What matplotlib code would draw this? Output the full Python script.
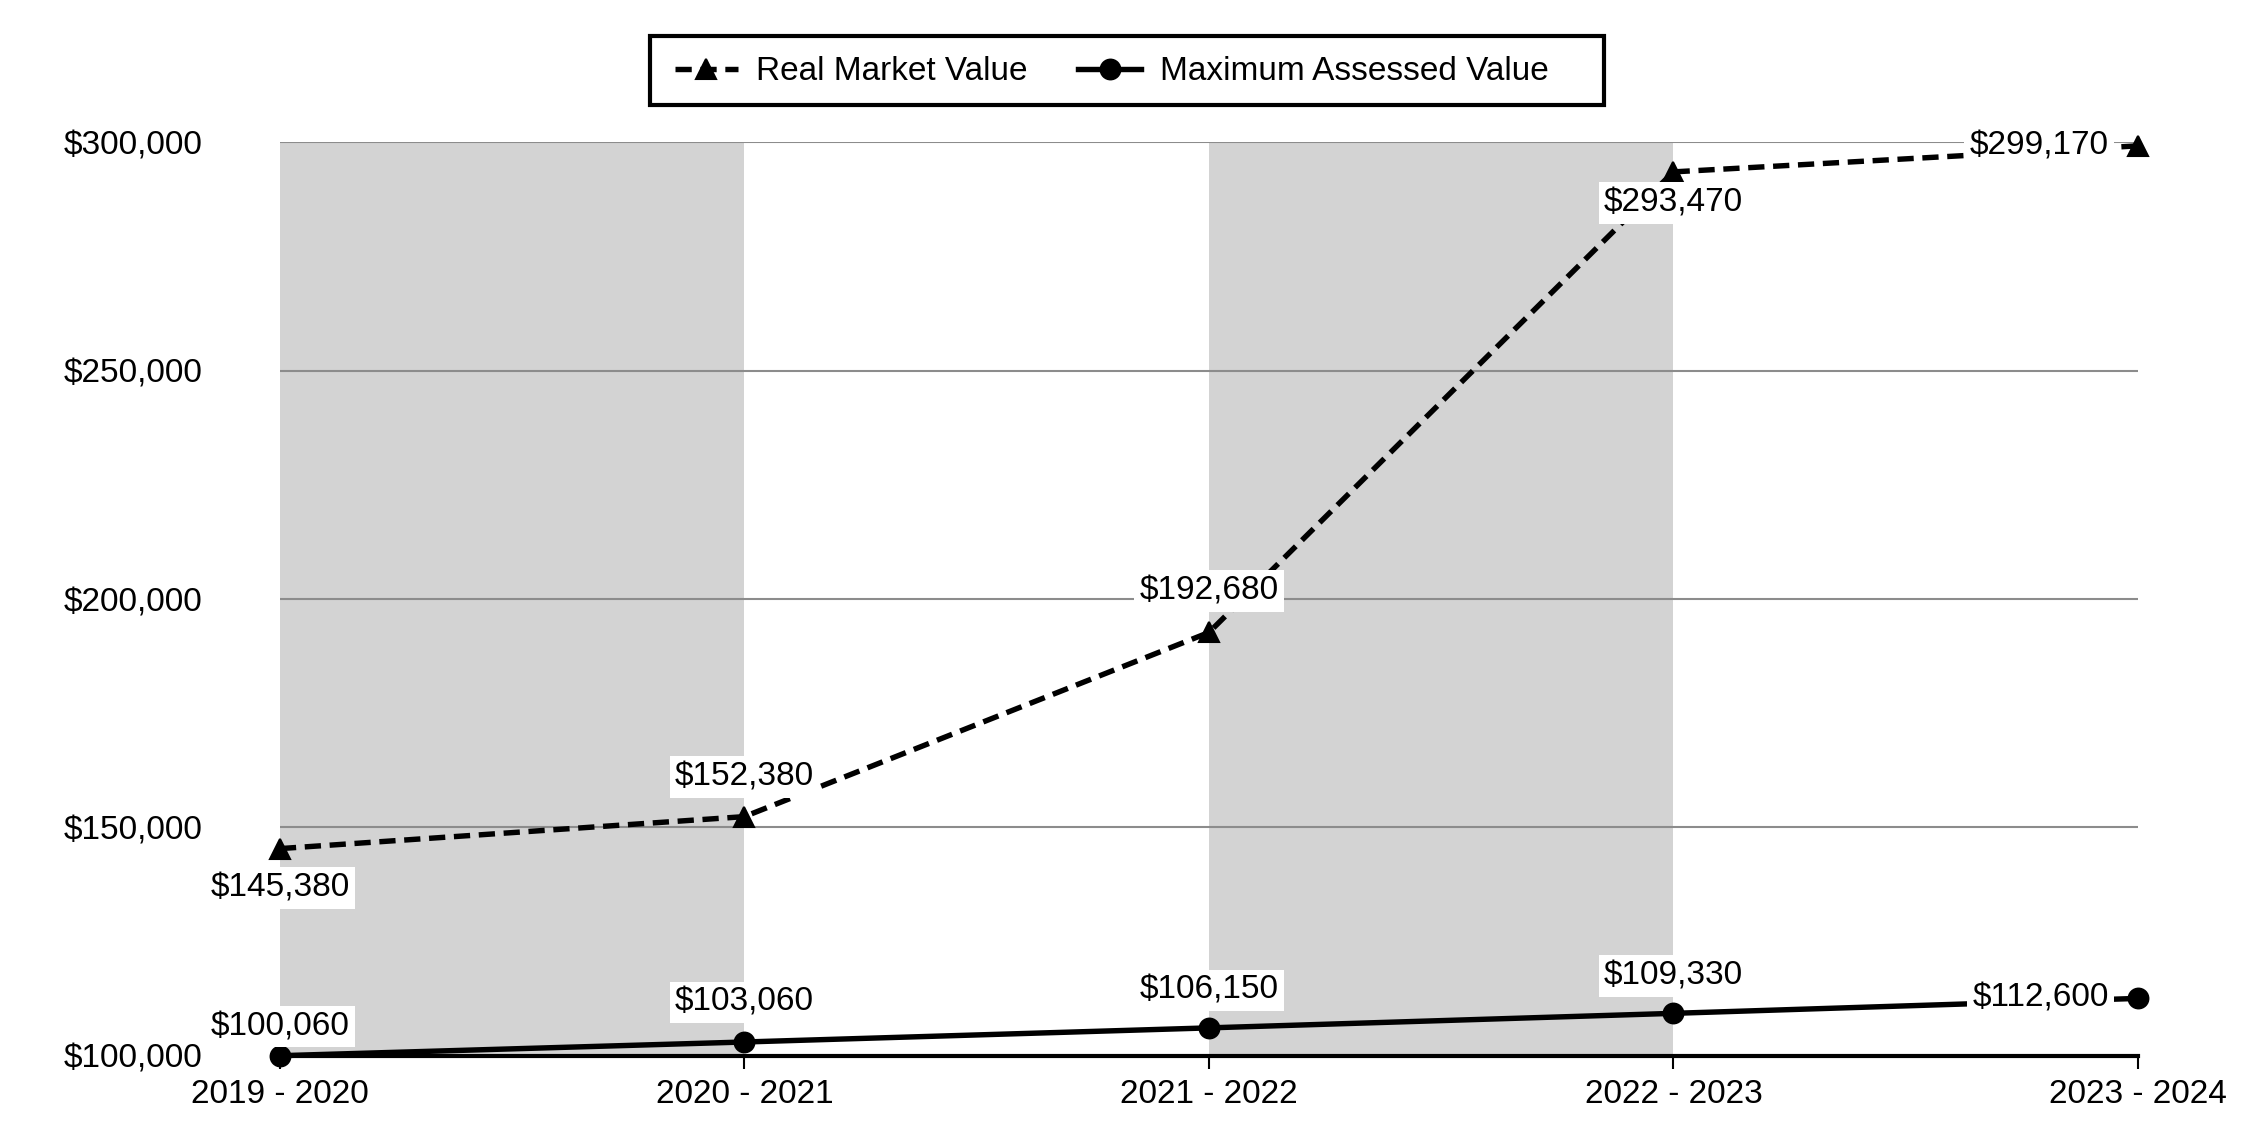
import matplotlib
matplotlib.use("Agg")
import matplotlib.pyplot as plt
from matplotlib.patches import Rectangle
from matplotlib.ticker import FuncFormatter

plt.rcParams['font.family'] = ['Liberation Sans', 'DejaVu Sans']

# data
years = ["2019 - 2020", "2020 - 2021", "2021 - 2022", "2022 - 2023", "2023 - 2024"]
real_market = [145380, 152380, 192680, 293470, 299170]
max_assessed = [100060, 103060, 106150, 109330, 112600]
y_ticks = [100000, 150000, 200000, 250000, 300000]

fig = plt.figure(figsize=(15, 7.6), dpi=150)
ax = fig.add_axes([0.1244, 0.0737, 0.8258, 0.8017])

x = list(range(len(years)))

# alternating grey bands
for i in range(0, len(years) - 1, 2):
    ax.axvspan(i, i + 1, color='#d3d3d3', lw=0, zorder=0)

for yv in y_ticks[1:]:
    ax.axhline(yv, color='#8c8c8c', lw=1.0, zorder=1)

ax.plot(x, real_market, color='black', ls=(0, (3, 1.6)), lw=2.6,
        marker='^', ms=10, label='Real Market Value', zorder=3, clip_on=False)
ax.plot(x, max_assessed, color='black', ls='-', lw=2.6,
        marker='o', ms=9.5, label='Maximum Assessed Value', zorder=3, clip_on=False)

box = dict(facecolor='white', edgecolor='none', pad=2.5)

# label offsets (points) for each series
rm_off = [(0, -19), (0, 19), (0, 20), (0, -15), (-14, 0)]
ma_off = [(0, 14), (0, 19), (0, 18), (0, 18), (-14, 0)]

for xi, v, off in zip(x, real_market, rm_off):
    ha = 'right' if off[0] < 0 else 'center'
    ax.annotate(f"${v:,}", (xi, v), xytext=off, textcoords='offset points',
                ha=ha, va='center', fontsize=16, bbox=box, zorder=5)
for xi, v, off in zip(x, max_assessed, ma_off):
    ha = 'right' if off[0] < 0 else 'center'
    ax.annotate(f"${v:,}", (xi, v), xytext=off, textcoords='offset points',
                ha=ha, va='center', fontsize=16, bbox=box, zorder=5)

ax.set_xlim(0, len(years) - 1)
ax.set_ylim(100000, 300000)
ax.set_xticks(x)
ax.set_xticklabels(years)
ax.set_yticks(y_ticks)
ax.yaxis.set_major_formatter(FuncFormatter(lambda v, p: f"${v:,.0f}"))
ax.tick_params(axis='y', length=0, pad=37, labelsize=16)
ax.tick_params(axis='x', length=6, width=1, pad=5, labelsize=16)

for s in ['top', 'right', 'left']:
    ax.spines[s].set_visible(False)
ax.spines['bottom'].set_linewidth(2)
ax.spines['bottom'].set_zorder(4)

# legend without frame, box drawn separately
leg = fig.legend(loc='center', bbox_to_anchor=(0.494, 0.937), ncol=2,
                 frameon=False, fontsize=16,
                 handlelength=1.9, handletextpad=0.55, columnspacing=1.5)
fig.patches.append(Rectangle((0.289, 0.908), 0.424, 0.060, transform=fig.transFigure,
                             fill=False, edgecolor='black', lw=2))

fig.savefig("out.png", dpi=150)
